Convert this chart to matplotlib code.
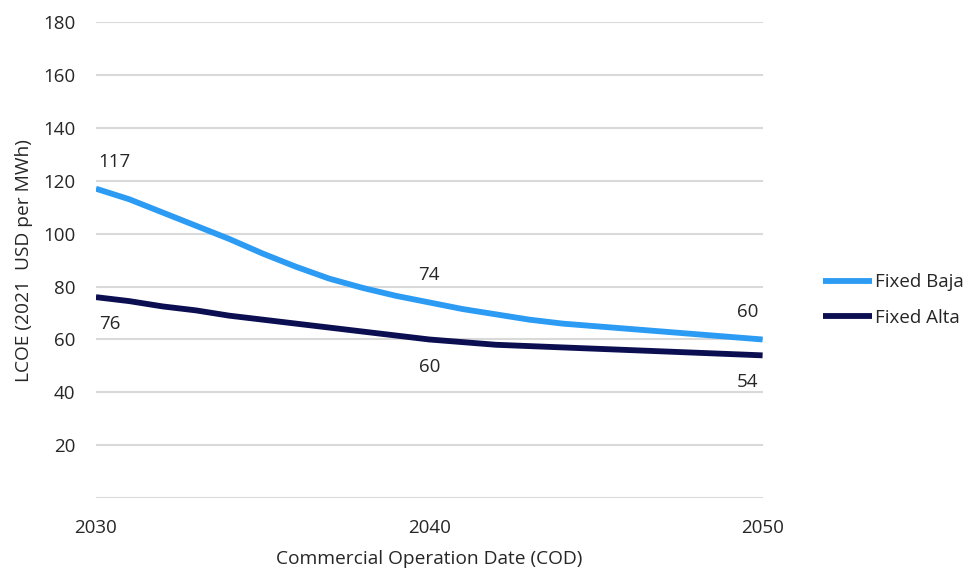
import numpy as np
import matplotlib
matplotlib.use('Agg')
import matplotlib.pyplot as plt

# Data
years = list(range(2030, 2051))
fixed_baja = [117, 113, 108, 103, 98, 92.5, 87.5, 83, 79.5, 76.5, 74,
              71.5, 69.5, 67.5, 66, 65, 64, 63, 62, 61, 60]
fixed_alta = [76, 74.5, 72.5, 71, 69, 67.5, 66, 64.5, 63, 61.5, 60,
              59, 58, 57.5, 57, 56.5, 56, 55.5, 55, 54.5, 54]
label_years = [2030, 2040, 2050]
yticks = list(range(0, 181, 20))
ytick_labels = [''] + [str(v) for v in yticks[1:]]

plt.rcParams.update({'font.family': ['Open Sans', 'DejaVu Sans'], 'font.size': 13})
color_baja = '#2b9bf4'
color_alta = '#0b0f52'
text_color = '#262626'

fig = plt.figure(figsize=(9.69, 5.72), dpi=100)
ax = fig.add_axes([0.099, 0.129, 0.688, 0.8325])

ax.plot(years, fixed_baja, color=color_baja, lw=4.2, label='Fixed Baja', solid_capstyle='butt')
ax.plot(years, fixed_alta, color=color_alta, lw=4.2, label='Fixed Alta', solid_capstyle='butt')

# Data labels at 2030, 2040, 2050
aligns = {2030: ('left', 2), 2040: ('center', 0), 2050: ('right', -3)}
for yr in label_years:
	i = years.index(yr)
	ha, dx = aligns[yr]
	ax.annotate(f'{fixed_baja[i]:.0f}', (yr, fixed_baja[i]), xytext=(dx, 13),
				textcoords='offset points', ha=ha, va='bottom', fontsize=13.5, color=text_color)
	ax.annotate(f'{fixed_alta[i]:.0f}', (yr, fixed_alta[i]), xytext=(dx, -13),
				textcoords='offset points', ha=ha, va='top', fontsize=13.5, color=text_color)

ax.set_xlim(2030, 2050)
ax.set_ylim(0, 180)
ax.set_xticks(label_years)
ax.set_yticks(yticks)
ax.set_yticklabels(ytick_labels)
ax.grid(axis='y', color='#d9d9d9', lw=1.5)
ax.set_axisbelow(True)
for s in ax.spines.values():
	s.set_visible(False)
ax.tick_params(length=0, colors=text_color, labelsize=13.5)
ax.tick_params(axis='y', pad=15)
ax.tick_params(axis='x', pad=15)

ax.set_xlabel('Commercial Operation Date (COD)', fontsize=13.8, color=text_color, labelpad=9)
ax.set_ylabel('LCOE (2021  USD per MWh)', fontsize=13.8, color=text_color, labelpad=7)

ax.legend(loc='center left', bbox_to_anchor=(1.08, 0.416), borderaxespad=0, frameon=False,
		  fontsize=13.5, handlelength=2.6, handletextpad=0.15, labelspacing=0.95,
		  labelcolor=text_color)

plt.savefig('out.png', dpi=100)
